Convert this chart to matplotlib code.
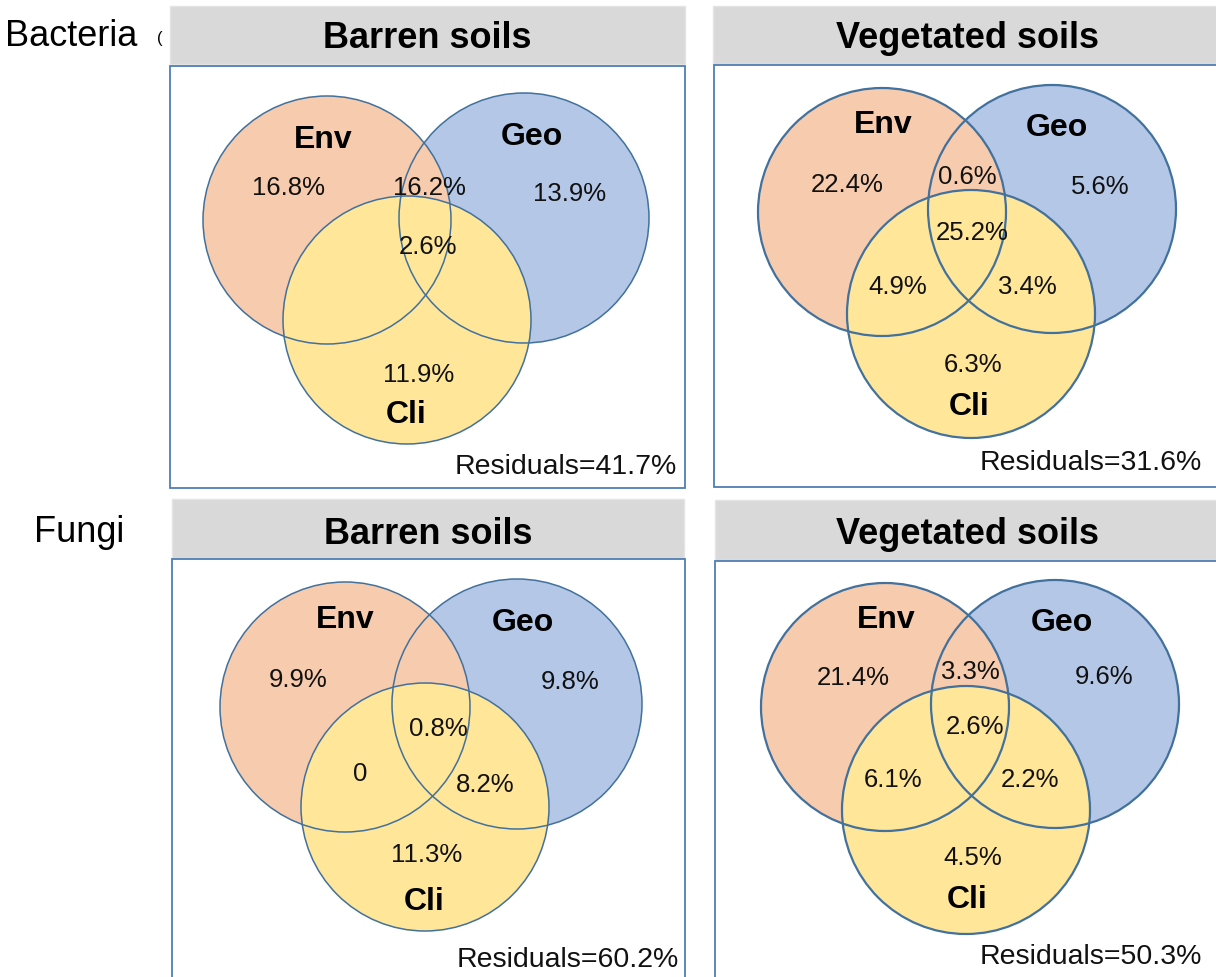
import matplotlib
matplotlib.use("Agg")
import matplotlib.pyplot as plt
from matplotlib.patches import Circle, Rectangle

plt.rcParams['font.family'] = ['Liberation Sans', 'DejaVu Sans']

# ---------------- data ----------------
row_labels = ["Bacteria", "Fungi"]
panel_titles = ["Barren soils", "Vegetated soils", "Barren soils", "Vegetated soils"]
set_labels = ["Env", "Geo", "Cli"]
# region order: Env only, Env&Geo, Geo only, all three, Env&Cli, Geo&Cli, Cli only
bact_barren = ["16.8%", "16.2%", "13.9%", "2.6%", "", "", "11.9%"]
bact_veg = ["22.4%", "0.6%", "5.6%", "25.2%", "4.9%", "3.4%", "6.3%"]
fungi_barren = ["9.9%", "", "9.8%", "0.8%", "0", "8.2%", "11.3%"]
fungi_veg = ["21.4%", "3.3%", "9.6%", "2.6%", "6.1%", "2.2%", "4.5%"]
residuals = ["41.7%", "31.6%", "60.2%", "50.3%"]
panel_values = [bact_barren, bact_veg, fungi_barren, fungi_veg]

# ---------------- layout (pixel coordinates) ----------------
W, H = 1216, 977
fig = plt.figure(figsize=(W / 100, H / 100), dpi=100)
ax = fig.add_axes([0, 0, 1, 1])
ax.set_xlim(0, W)
ax.set_ylim(H, 0)
ax.axis('off')

c_env, c_geo, c_cli = "#f7cbad", "#b4c7e7", "#ffe699"
edge = "#41719c"
box_edge = "#4e7fb5"

layouts = [
    dict(header=(170, 6, 515, 58), box=(170, 66, 515, 422), lw=1.1,
         circ=[(327, 220, 124), (524, 218, 125), (407, 320, 124)],
         setpos=[(323, 140), (532, 137), (406, 415)],
         regpos=[(289, 188), (429, 188), (570, 194), (428, 247), None, None, (419, 375)],
         res=(677, 467), title=(427, 37)),
    dict(header=(713, 6, 520, 58), box=(714, 65, 520, 422), lw=1.6,
         circ=[(882, 212, 124), (1052, 209, 124), (971, 314, 124)],
         setpos=[(883, 125), (1057, 128), (969, 407)],
         regpos=[(847, 185), (967, 177), (1100, 187), (972, 233), (898, 287), (1027, 287), (973, 365)],
         res=(1202, 463), title=(968, 37)),
    dict(header=(172, 499, 512, 59), box=(172, 559, 513, 430), lw=1.1,
         circ=[(345, 707, 125), (517, 704, 125), (425, 807, 124)],
         setpos=[(345, 620), (523, 623), (424, 902)],
         regpos=[(298, 680), None, (570, 682), (438, 729), (360, 774), (485, 785), (427, 855)],
         res=(679, 960), title=(428, 532)),
    dict(header=(715, 500, 520, 60), box=(715, 561, 520, 430), lw=1.6,
         circ=[(885, 707, 124), (1055, 704, 124), (966, 810, 124)],
         setpos=[(886, 620), (1062, 623), (967, 900)],
         regpos=[(853, 678), (970, 672), (1104, 677), (975, 727), (893, 780), (1030, 780), (973, 858)],
         res=(1202, 957), title=(968, 532)),
]

# row labels
ax.text(5, 37, row_labels[0], fontsize=26, ha='left', va='center', color='black', zorder=1)
ax.text(157, 38, "(", fontsize=12, ha='left', va='center', color='black', zorder=1)
ax.text(34, 533, row_labels[1], fontsize=26, ha='left', va='center', color='black', zorder=1)

for i, lay in enumerate(layouts):
    hx, hy, hw, hh = lay['header']
    ax.add_patch(Rectangle((hx, hy), hw, hh, facecolor="#d9d9d9", edgecolor="#e4e4e4",
                           linewidth=1, zorder=2))
    ax.text(lay['title'][0], lay['title'][1] + 2, panel_titles[i], fontsize=26, fontweight='bold',
            ha='center', va='center', color='black', zorder=3)
    bx, by, bw, bh = lay['box']
    ax.add_patch(Rectangle((bx, by), bw, bh, facecolor="white", edgecolor=box_edge,
                           linewidth=1.3, zorder=2))
    # fills: Geo, Env, Cli
    (ex, ey, er), (gx, gy, gr), (cx, cy, cr) = lay['circ']
    ax.add_patch(Circle((gx, gy), gr, facecolor=c_geo, edgecolor='none', zorder=3))
    ax.add_patch(Circle((ex, ey), er, facecolor=c_env, edgecolor='none', zorder=3.1))
    ax.add_patch(Circle((cx, cy), cr, facecolor=c_cli, edgecolor='none', zorder=3.2))
    for (x, y, r) in lay['circ']:
        ax.add_patch(Circle((x, y), r, facecolor='none', edgecolor=edge, linewidth=lay['lw'], zorder=4))
    for lab, (sx, sy) in zip(set_labels, lay['setpos']):
        ax.text(sx, sy, lab, fontsize=23, fontweight='bold', ha='center', va='center',
                color='black', zorder=5)
    for val, pos in zip(panel_values[i], lay['regpos']):
        if pos is None or val == "":
            continue
        ax.text(pos[0], pos[1], val, fontsize=18.5, ha='center', va='center',
                color='#111111', zorder=5)
    ax.text(lay['res'][0], lay['res'][1], "Residuals=" + residuals[i], fontsize=20.5,
            ha='right', va='center', color='#111111', zorder=5)

fig.savefig("out.png", dpi=100)
